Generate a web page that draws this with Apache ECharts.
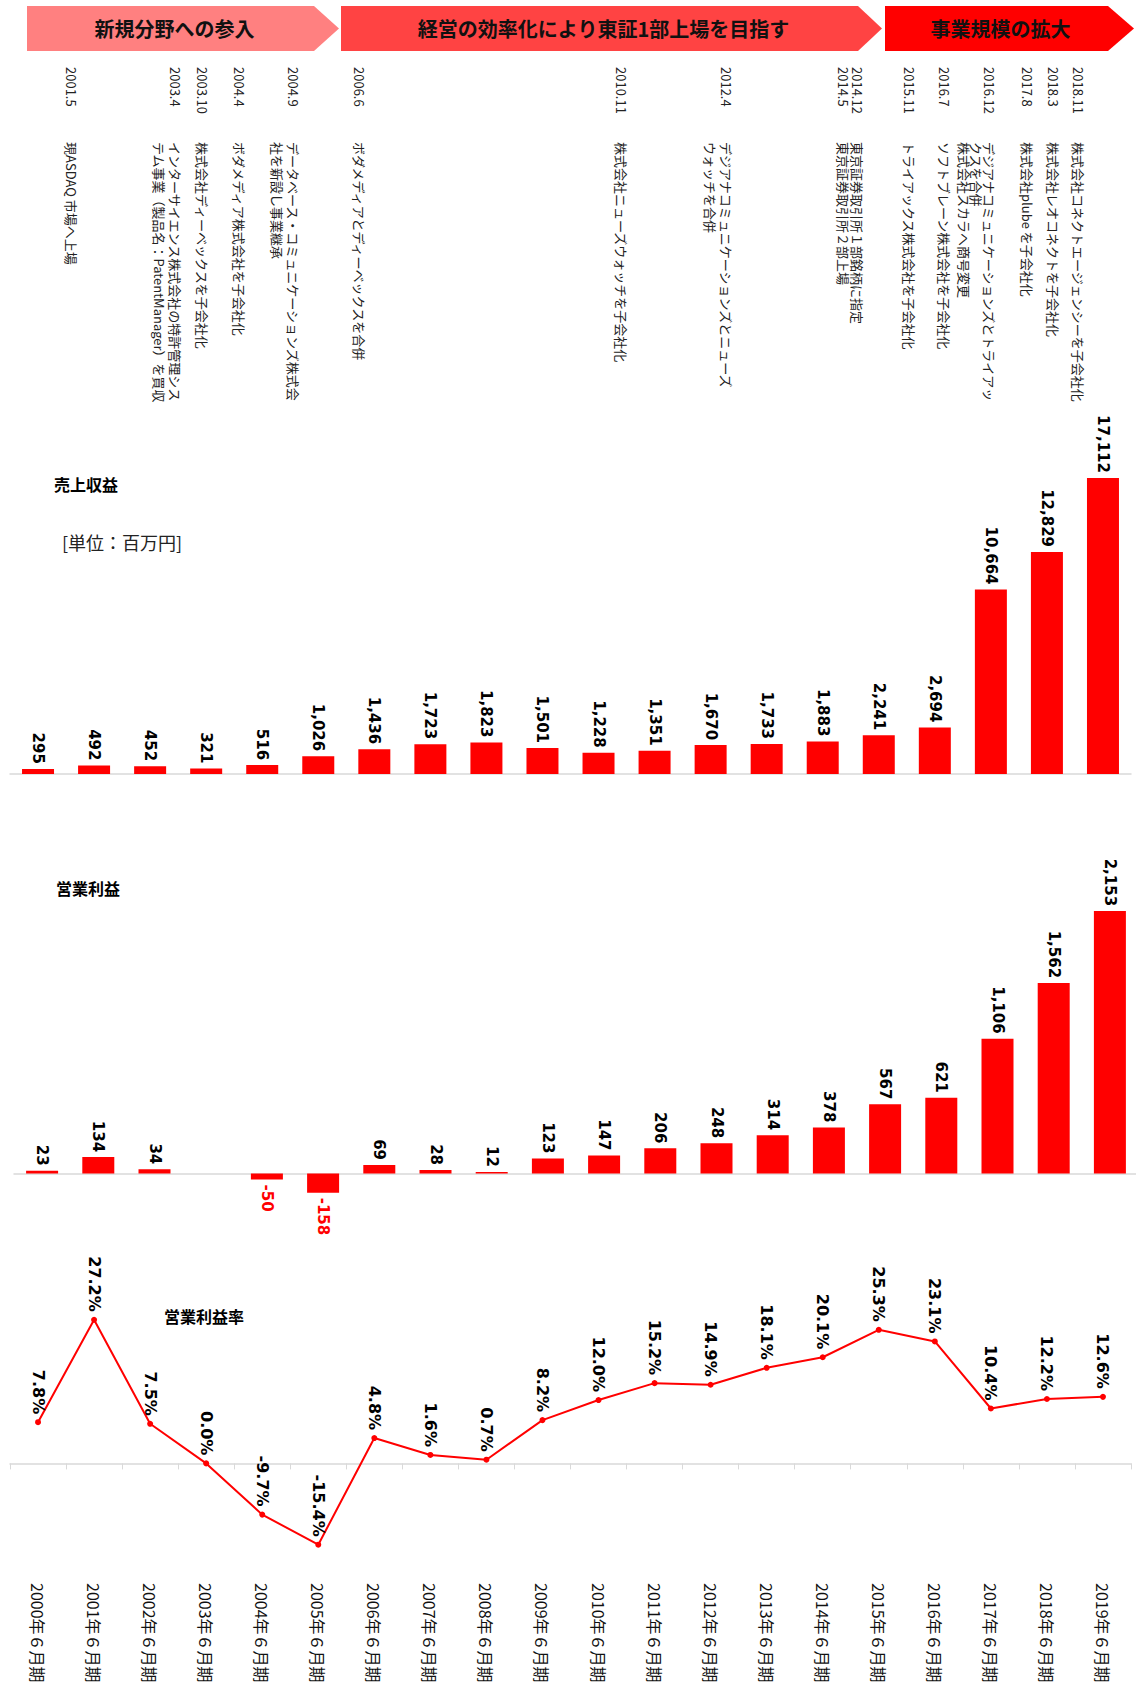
<!DOCTYPE html>
<html><head><meta charset="utf-8">
<script src="https://cdn.jsdelivr.net/npm/echarts@6/dist/echarts.min.js"></script>
<style>html,body{margin:0;padding:0;background:#fff}#c{width:1136px;height:1693px}</style>
</head><body><div id="c"></div>
<script>
// ---- data ----
const categories = ['2000年６月期','2001年６月期','2002年６月期','2003年６月期','2004年６月期','2005年６月期','2006年６月期','2007年６月期','2008年６月期','2009年６月期','2010年６月期','2011年６月期','2012年６月期','2013年６月期','2014年６月期','2015年６月期','2016年６月期','2017年６月期','2018年６月期','2019年６月期'];
const revenue = [295,492,452,321,516,1026,1436,1723,1823,1501,1228,1351,1670,1733,1883,2241,2694,10664,12829,17112];
const operatingProfit = [23,134,34,0,-50,-158,69,28,12,123,147,206,248,314,378,567,621,1106,1562,2153];
const operatingMargin = [7.8,27.2,7.5,0.0,-9.7,-15.4,4.8,1.6,0.7,8.2,12.0,15.2,14.9,18.1,20.1,25.3,23.1,10.4,12.2,12.6];
const phaseTitles = ['新規分野への参入','経営の効率化により東証1部上場を目指す','事業規模の拡大'];
const chartTitles = ['売上収益','営業利益','営業利益率'];
const unitLabel = '[単位：百万円]';
const eventDates = [['2001.5'],['2003.4'],['2003.10'],['2004.4'],['2004.9'],['2006.6'],['2010.11'],['2012.4'],['2014.12','2014.5'],['2015.11'],['2016.7'],['2016.12'],['2017.8'],['2018.3'],['2018.11']];
const eventTexts = [
  ['現ASDAQ 市場へ上場'],
  ['インターサイエンス株式会社の特許管理シス','テム事業（製品名：PatentManager）を買収'],
  ['株式会社ディーベックスを子会社化'],
  ['ボダメディア株式会社を子会社化'],
  ['データベース・コミュニケーションズ株式会','社を新設し事業継承'],
  ['ボダメディアとディーベックスを合併'],
  ['株式会社ニューズウォッチを子会社化'],
  ['デジアナコミュニケーションズとニューズ','ウォッチを合併'],
  ['東京証券取引所１部銘柄に指定','東京証券取引所２部上場'],
  ['トライアックス株式会社を子会社化'],
  ['ソフトブレーン株式会社を子会社化'],
  ['デジアナコミュニケーションズとトライアッ','クスを合併','株式会社スカラへ商号変更'],
  ['株式会社plube を子会社化'],
  ['株式会社レオコネクトを子会社化'],
  ['株式会社コネクトエージェンシーを子会社化']
];

// ---- layout (pixels) ----
const eventCenterX = [71,175,202,239,293,359,621,726,857,909,944,989,1027,1053,1078];
const eventLineHeight = [15,16,15,15,16,15,15,16,14,15,15,12.5,15,15,15];
const arrows = [
  {x0:27, x1:314, tip:339, fill:'#ff8080'},
  {x0:341, x1:858, tip:882, fill:'#ff4343'},
  {x0:885, x1:1108, tip:1134, fill:'#ff0000'}
];
const arrowTop = 6, arrowBottom = 51;

const JP = '"Noto Sans CJK JP", "Noto Sans", sans-serif';
const NUM = '"DejaVu Sans", Verdana, sans-serif';

const graphics = [];
arrows.forEach((a, i) => {
  const mid = (arrowTop + arrowBottom) / 2;
  graphics.push({type:'polygon', shape:{points:[[a.x0,arrowTop],[a.x1,arrowTop],[a.tip,mid],[a.x1,arrowBottom],[a.x0,arrowBottom]]}, style:{fill:a.fill}, silent:true});
  graphics.push({type:'text', x:(a.x0 + a.x1)/2 + 4, y:mid, style:{text:phaseTitles[i], font:'bold 20px ' + JP, fill:'#111', textAlign:'center', textVerticalAlign:'middle', align:'center', verticalAlign:'middle'}, silent:true});
});
eventDates.forEach((d, i) => {
  const lh = eventLineHeight[i];
  const ax = eventCenterX[i] + lh / 2;
  graphics.push({type:'text', x:ax, y:67, rotation:-Math.PI/2, style:{text:d.join('\n'), font:'13px ' + JP, lineHeight:lh, fill:'#222', textAlign:'left', textVerticalAlign:'top', align:'left', verticalAlign:'top'}, silent:true});
  graphics.push({type:'text', x:ax, y:142, rotation:-Math.PI/2, style:{text:eventTexts[i].join('\n'), font:'13px ' + JP, lineHeight:lh, fill:'#222', textAlign:'left', textVerticalAlign:'top', align:'left', verticalAlign:'top'}, silent:true});
});
const titlePos = [[54,484],[56,888],[164,1316]];
chartTitles.forEach((t, i) => {
  graphics.push({type:'text', x:titlePos[i][0], y:titlePos[i][1], style:{text:t, font:'bold 16px ' + JP, fill:'#000', textAlign:'left', textVerticalAlign:'middle', align:'left', verticalAlign:'middle'}, silent:true});
});
graphics.push({type:'text', x:62, y:542, style:{text:unitLabel, font:'18px ' + JP, fill:'#222', textAlign:'left', textVerticalAlign:'middle', align:'left', verticalAlign:'middle'}, silent:true});

const fmt = v => v.toLocaleString('en-US');
const barLabel = {show:true, position:'top', rotate:-90, align:'right', verticalAlign:'middle', distance:5, fontFamily:NUM, fontWeight:'bold', fontSize:15, color:'#000'};

const profitData = operatingProfit.map(v => {
  if (v < 0) return {value:v, label:{position:'bottom', align:'left', color:'#ff0000'}};
  if (v === 0) return {value:v, label:{show:false}};
  return v;
});

const axisGray = '#d9d9d9';
const hiddenY = {type:'value', show:false, splitLine:{show:false}};

const option = {
  animation:false,
  backgroundColor:'#fff',
  graphic:graphics,
  grid:[
    {left:10, right:5, top:428, height:346, outerBoundsMode:'none', containLabel:false},
    {left:14, right:-2, top:881, height:329, outerBoundsMode:'none', containLabel:false},
    {left:10, right:5, top:1305, height:264, outerBoundsMode:'none', containLabel:false}
  ],
  xAxis:[
    {type:'category', gridIndex:0, data:categories, axisLine:{lineStyle:{color:axisGray, width:1.5}}, axisTick:{show:false}, axisLabel:{show:false}},
    {type:'category', gridIndex:1, data:categories, axisLine:{onZero:true, lineStyle:{color:axisGray, width:1.5}}, axisTick:{show:false}, axisLabel:{show:false}},
    {type:'category', gridIndex:2, data:categories, axisLine:{onZero:true, lineStyle:{color:axisGray, width:1.5}}, axisTick:{show:true, length:6, lineStyle:{color:axisGray}}, axisLabel:{show:true, interval:0, rotate:-90, margin:14, fontSize:16, color:'#111', fontFamily:JP}}
  ],
  yAxis:[
    Object.assign({gridIndex:0, min:0, max:20000}, hiddenY),
    Object.assign({gridIndex:1, min:-300, max:2400}, hiddenY),
    Object.assign({gridIndex:2, min:-20, max:30}, hiddenY)
  ],
  series:[
    {type:'bar', xAxisIndex:0, yAxisIndex:0, data:revenue, barWidth:32, itemStyle:{color:'#ff0000'}, label:Object.assign({formatter:p => fmt(p.value)}, barLabel)},
    {type:'bar', xAxisIndex:1, yAxisIndex:1, data:profitData, barWidth:32, itemStyle:{color:'#ff0000'}, label:Object.assign({formatter:p => fmt(p.value)}, barLabel)},
    {type:'line', xAxisIndex:2, yAxisIndex:2, data:operatingMargin, symbol:'circle', symbolSize:6, lineStyle:{color:'#ff0000', width:2}, itemStyle:{color:'#ff0000'},
      label:{show:true, position:'top', rotate:-90, align:'right', verticalAlign:'middle', distance:5, fontFamily:NUM, fontWeight:'bold', fontSize:16, color:'#000', formatter:p => p.value.toFixed(1) + '%'}}
  ]
};
const chart = echarts.init(document.getElementById('c'), null, {renderer:'svg'});
chart.setOption(option);
</script></body></html>
